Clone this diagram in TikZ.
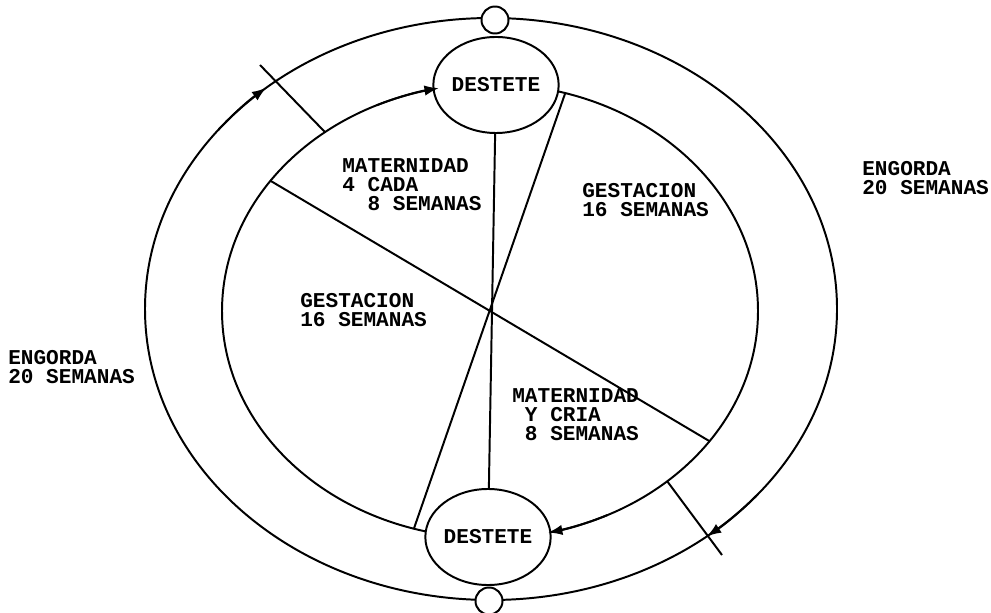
\documentclass[tikz,border=0pt]{standalone}
\usepackage{fontspec}
\newfontfamily\typefont{Liberation Mono}
\usetikzlibrary{shapes.geometric,arrows.meta,calc}

\begin{document}
\begin{tikzpicture}[
    x=0.025cm, y=0.025cm,
    font=\typefont\bfseries\fontsize{15}{13.5}\selectfont,
    >=Latex,
    ring/.style={line width=1.4pt},
    arr/.style={-{Latex[length=3.6mm,width=2.6mm]}, line width=1.4pt},
    stage/.style={draw, ellipse, fill=white, line width=1.4pt, inner sep=0pt,
                  minimum width=2.75cm, minimum height=2.4cm},
    knot/.style={draw, circle, fill=white, line width=1.4pt, inner sep=0pt,
                 minimum size=0.675cm},
    txt/.style={anchor=north west, inner sep=0pt, align=left}
  ]
  \useasboundingbox (0,0) rectangle (991,612);

  \coordinate (outer) at (491,303);
  \coordinate (inner) at (490,301);

  \draw[ring] (outer) ellipse [x radius=346, y radius=291];
  \draw[ring] (inner) ellipse [x radius=268, y radius=227];

  \path (inner) ++(145:268 and 227) coordinate (diagAa);
  \path (inner) ++(-35:268 and 227) coordinate (diagAb);
  \path (inner) ++(73.7:268 and 227) coordinate (diagBa);
  \path (inner) ++(253.5:268 and 227) coordinate (diagBb);
  \path (inner) ++(128:268 and 227) coordinate (tickAin);
  \path (inner) ++(-48.6:268 and 227) coordinate (tickBin);
  \coordinate (tickAout) at (260,547);
  \coordinate (tickBout) at (722,57);

  \draw[ring] (diagAa) -- (diagAb);
  \draw[ring] (diagBa) -- (diagBb);
  \draw[ring] (tickAin) -- (tickAout);
  \draw[ring] (tickBin) -- (tickBout);

  \node[stage] (desteteA) at (496,527) {DESTETE};
  \node[stage, minimum width=2.8cm] (desteteB) at (488,75) {DESTETE};
  \node[knot] (knotA) at (495,592) {};
  \node[knot] (knotB) at (489,11) {};

  \draw[ring] (desteteA) -- (desteteB);

  \draw[arr] (outer) ++(142:346 and 291) arc[start angle=142, end angle=130.5, x radius=346, y radius=291];
  \draw[arr] (outer) ++(-40:346 and 291) arc[start angle=-40, end angle=-51.4, x radius=346, y radius=291];
  \draw[arr] (inner) ++(115:268 and 227) arc[start angle=115, end angle=101, x radius=268, y radius=227];
  \draw[arr] (inner) ++(-64:268 and 227) arc[start angle=-64, end angle=-77.5, x radius=268, y radius=227];

  \node[txt] (materA) at (342,454) {MATERNIDAD\\4 CADA\\\phantom{44}8 SEMANAS};
  \node[txt] (gestaA) at (582,429) {GESTACION\\16 SEMANAS};
  \node[txt] (engorA) at (862,451) {ENGORDA\\20 SEMANAS};
  \node[txt] (gestaB) at (300,319) {GESTACION\\16 SEMANAS};
  \node[txt] (materB) at (512,224) {MATERNIDAD\\\phantom{4}Y CRIA\\\phantom{4}8 SEMANAS};
  \node[txt] (engorB) at (8,262) {ENGORDA\\20 SEMANAS};
\end{tikzpicture}
\end{document}
